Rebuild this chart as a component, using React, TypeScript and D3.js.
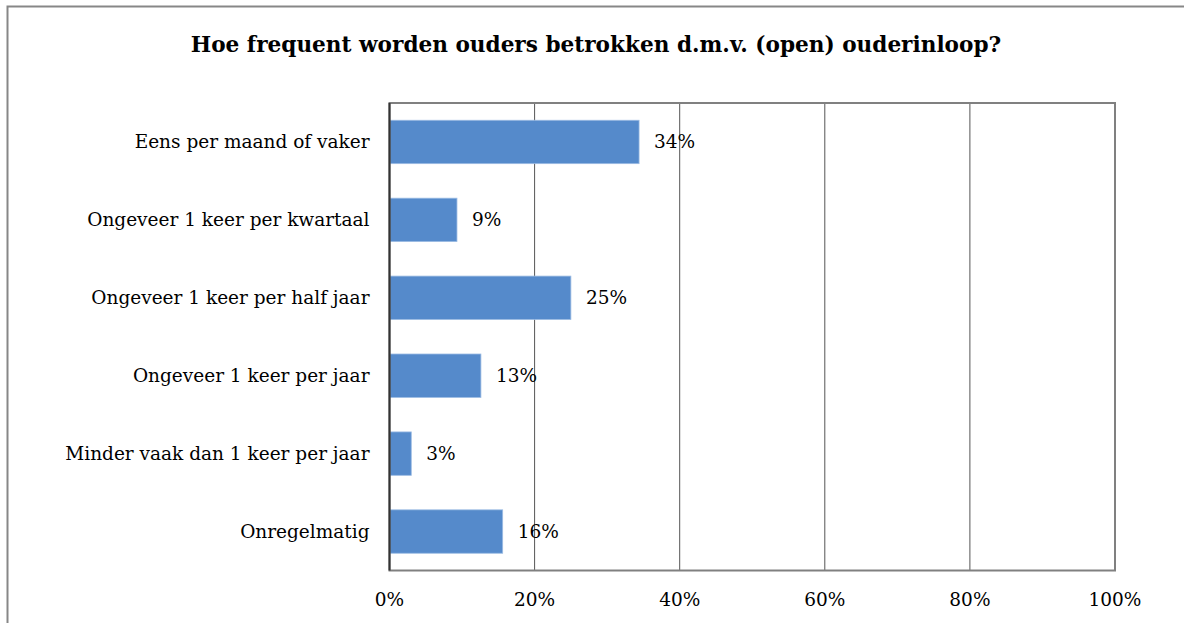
import React from "react";
import * as d3 from "d3";

const categories = [
  "Eens per maand of vaker",
  "Ongeveer 1 keer per kwartaal",
  "Ongeveer 1 keer per half jaar",
  "Ongeveer 1 keer per jaar",
  "Minder vaak dan 1 keer per jaar",
  "Onregelmatig",
];
const values = [34.4, 9.3, 25.0, 12.6, 3.0, 15.6];
const ticks = [0, 20, 40, 60, 80, 100];
const title = "Hoe frequent worden ouders betrokken d.m.v. (open) ouderinloop?";

const W = 1184;
const H = 623;
const plot = { left: 389.5, right: 1115, top: 103, bottom: 570.5 };
const FONT = "'DejaVu Serif', serif";

export default function App() {
  const x = d3.scaleLinear().domain([0, 100]).range([plot.left, plot.right]);
  const y = d3
    .scaleBand<string>()
    .domain(categories)
    .range([plot.top, plot.bottom])
    .paddingInner(0.443)
    .paddingOuter(0.2215);

  return (
    <svg
      width={W}
      height={H}
      style={{ position: "absolute", left: 0, top: 0, background: "#fff" }}
      fontFamily={FONT}
    >
      <rect x={7.5} y={6.5} width={W + 10} height={H + 10} fill="#fff" stroke="#878787" strokeWidth={2} />
      <text x={596} y={52} textAnchor="middle" fontWeight="bold" fontSize={21.6} fill="#000">
        {title}
      </text>
      {ticks.slice(1, -1).map((t) => (
        <line key={t} x1={x(t)} x2={x(t)} y1={plot.top} y2={plot.bottom} stroke="#555" strokeWidth={1} />
      ))}
      {categories.map((c, i) => (
        <g key={c}>
          <rect
            x={x(0)}
            y={y(c)!}
            width={x(values[i]) - x(0)}
            height={y.bandwidth()}
            fill="#558ACB"
            stroke="#9bbbe3"
            strokeWidth={0.8}
          />
          <text x={x(values[i]) + 15} y={y(c)! + y.bandwidth() / 2 + 6.5} fontSize={18.5} fill="#000">
            {Math.round(values[i])}%
          </text>
          <text x={plot.left - 20} y={y(c)! + y.bandwidth() / 2 + 6.5} fontSize={18.5} textAnchor="end" fill="#000">
            {c}
          </text>
        </g>
      ))}
      <rect
        x={plot.left}
        y={plot.top}
        width={plot.right - plot.left}
        height={plot.bottom - plot.top}
        fill="none"
        stroke="#808080"
        strokeWidth={2}
      />
      <line x1={plot.left} x2={plot.left} y1={plot.top} y2={plot.bottom} stroke="#333" strokeWidth={2} />
      {ticks.map((t) => (
        <text key={t} x={x(t)} y={606} textAnchor="middle" fontSize={18.5} fill="#000">
          {t}%
        </text>
      ))}
    </svg>
  );
}
